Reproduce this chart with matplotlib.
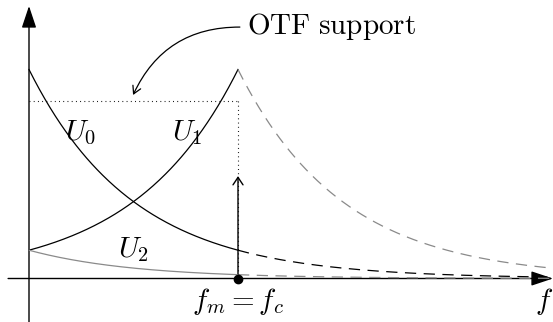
import numpy as np
import matplotlib
matplotlib.use("Agg")
import matplotlib.pyplot as plt
from matplotlib.patches import FancyArrowPatch

plt.rcParams['mathtext.fontset'] = 'cm'

# ---- data (normalised frequency, f/fm) ----
decay_rate = 2.0          # exponential decay rate of the OTF copies
fm = 1.0                  # modulation frequency = cutoff
x_max = 2.5
support_level = 0.85      # dotted OTF-support level
arrow_height = 0.49       # modulation peak arrow

x_in = np.linspace(0, fm, 200)
x_out = np.linspace(fm, x_max, 300)
U0_in = np.exp(-decay_rate * x_in)
U0_out = np.exp(-decay_rate * x_out)
U1_in = np.exp(-decay_rate * (fm - x_in))
U1_out = np.exp(-decay_rate * (x_out - fm))
U2_in = np.exp(-decay_rate * (fm + x_in))
U2_out = np.exp(-decay_rate * (fm + x_out))

labels = {"U0": r"$U_0$", "U1": r"$U_1$", "U2": r"$U_2$",
          "fm": r"$f_m = f_c$", "f": r"$f$", "otf": r"$\mathrm{OTF\ support}$"}

# ---- figure ----
fig = plt.figure(figsize=(5.53, 3.22), dpi=100)
ax = fig.add_axes([0, 0, 1, 1])
ox, oy, s = 29.0, 278.5, 209.0
ax.set_xlim((0 - ox) / s, (553 - ox) / s)
ax.set_ylim((oy - 322) / s, oy / s)
ax.axis('off')

lw = 0.9
grey = '#8a8a8a'
dash = (9, 6)
ax.plot(x_in, U0_in, color='black', lw=lw)
ax.plot(x_out, U0_out, color='black', lw=lw, dashes=dash)
ax.plot(x_in, U1_in, color='black', lw=lw)
ax.plot(x_out, U1_out, color=grey, lw=lw, dashes=dash)
ax.plot(x_in, U2_in, color=grey, lw=lw)
ax.plot(x_out, U2_out, color=grey, lw=lw, dashes=dash)

# dotted support box
ax.plot([0, fm], [support_level, support_level], color='black', lw=0.8, dashes=(0.8, 3))
ax.plot([fm, fm], [support_level, 0], color='black', lw=0.8, dashes=(0.8, 3))

# axes with arrows
ax.add_patch(FancyArrowPatch((-0.1, 0), ((553 - ox) / s, 0), arrowstyle='-|>,head_length=0.75,head_width=0.25',
                             mutation_scale=18, color='black', lw=1.0, shrinkA=0, shrinkB=0))
ax.add_patch(FancyArrowPatch((0, (oy - 322) / s), (0, (oy - 6) / s), arrowstyle='-|>,head_length=0.75,head_width=0.25',
                             mutation_scale=18, color='black', lw=1.0, shrinkA=0, shrinkB=0))

# modulation arrow + dot
ax.add_patch(FancyArrowPatch((fm, 0), (fm, arrow_height), arrowstyle='->,head_length=0.3,head_width=0.2',
                             mutation_scale=18, color='black', lw=1.0, shrinkA=0, shrinkB=0))
ax.plot([fm], [0], 'o', color='black', markersize=6)

# curved arrow from text
ax.add_patch(FancyArrowPatch((1.009, 1.203), (0.498, 0.878), connectionstyle='arc3,rad=0.32',
                             arrowstyle='->,head_length=0.3,head_width=0.17', mutation_scale=18,
                             color='black', lw=0.9, shrinkA=0, shrinkB=0))

fs = 21
ax.text(0.172, 0.663, labels["U0"], fontsize=fs, ha='left', va='baseline')
ax.text(0.684, 0.663, labels["U1"], fontsize=fs, ha='left', va='baseline')
ax.text(0.426, 0.103, labels["U2"], fontsize=fs, ha='left', va='baseline')
ax.text(0.78, -0.146, labels["fm"], fontsize=fs, ha='left', va='baseline')
ax.text(2.42, -0.146, labels["f"], fontsize=fs, ha='left', va='baseline')
ax.text(1.043, 1.17, labels["otf"], fontsize=fs, ha='left', va='baseline')

fig.savefig('out.png', dpi=100)
